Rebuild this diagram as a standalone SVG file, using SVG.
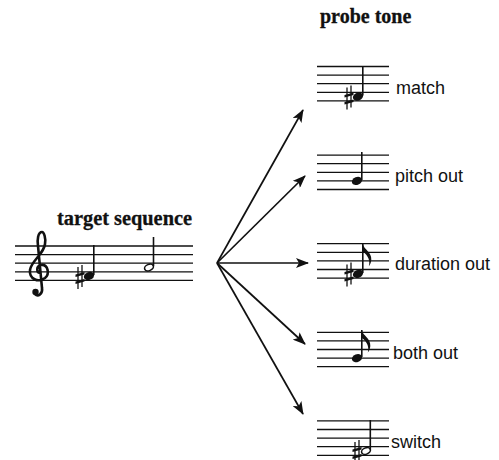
<svg xmlns="http://www.w3.org/2000/svg" xmlns:xlink="http://www.w3.org/1999/xlink" width="499" height="460" viewBox="0 0 499 460">
<style>
.staff line{stroke:#111;stroke-width:1.3}
.title{font-family:"Liberation Serif","Times New Roman",serif;font-weight:bold;font-size:20px;fill:#111;stroke:#111;stroke-width:0.3}
.lbl{font-family:"Liberation Sans",Arial,sans-serif;font-size:18px;fill:#111}
.stem{stroke:#111;stroke-width:1.6}
.arrow{stroke:#111;stroke-width:1.7;fill:none;marker-end:url(#ah)}
</style>
<defs>
<marker id="ah" viewBox="0 0 13 10" refX="12" refY="5" markerWidth="13" markerHeight="10" markerUnits="userSpaceOnUse" orient="auto">
<path d="M0,0 L13,5 L0,10 L3,5 z" fill="#111"/>
</marker>
<g id="staff5" class="staff">
<line x1="0" y1="0" x2="72" y2="0"/>
<line x1="0" y1="8.6" x2="72" y2="8.6"/>
<line x1="0" y1="17.2" x2="72" y2="17.2"/>
<line x1="0" y1="25.8" x2="72" y2="25.8"/>
<line x1="0" y1="34.4" x2="72" y2="34.4"/>
</g>
<g id="sharp">
<line x1="-2" y1="-10" x2="-2" y2="12" stroke="#111" stroke-width="1.3"/>
<line x1="2" y1="-12" x2="2" y2="10" stroke="#111" stroke-width="1.3"/>
<path d="M-4.5,-2.5 L4.5,-5 L4.5,-2.5 L-4.5,0 z" fill="#111"/>
<path d="M-4.5,4.5 L4.5,2 L4.5,4.5 L-4.5,7 z" fill="#111"/>
</g>
<ellipse id="fhead" cx="0" cy="0" rx="5.3" ry="3.9" transform="rotate(-22)" fill="#111"/>
<ellipse id="ohead" cx="0" cy="0" rx="4.6" ry="3.1" transform="rotate(-22)" fill="none" stroke="#111" stroke-width="1.6"/>
<path id="flag" d="M0,0 C1,6 9,8 8.5,16 C8.3,19 7.3,21 6,22.5 C7.5,18 6,12 0,8 z" fill="#111"/>
</defs>
<rect width="499" height="460" fill="#fff"/>

<g id="target">
<text class="title" x="57" y="225" textLength="135" lengthAdjust="spacingAndGlyphs">target sequence</text>
<g class="staff">
<line x1="15" y1="246" x2="193" y2="246"/>
<line x1="15" y1="254.6" x2="193" y2="254.6"/>
<line x1="15" y1="263.2" x2="193" y2="263.2"/>
<line x1="15" y1="271.8" x2="193" y2="271.8"/>
<line x1="15" y1="280.4" x2="193" y2="280.4"/>
</g>
<path d="M41,273 C36,273 36,266 41,265 C48,264 50,274 45,278 C38,283 29,279 30,270 C31,261 44,254 45,244 C46,238 44,232 42,232 C38,232 37,240 38,246 L42,288 C43,294 38,297 35,294" fill="none" stroke="#111" stroke-width="2.6"/>
<circle cx="35.5" cy="292" r="3.2" fill="#111"/>
<use xlink:href="#sharp" x="80" y="277"/>
<use xlink:href="#fhead" x="89" y="276"/>
<line class="stem" x1="93.8" y1="275" x2="93.8" y2="245"/>
<use xlink:href="#ohead" x="149" y="267.5"/>
<line class="stem" x1="153.5" y1="266" x2="153.5" y2="237"/>
</g>

<g id="probe-title">
<text class="title" x="320" y="23">probe tone</text>
</g>

<g id="match">
<use xlink:href="#staff5" x="317" y="66.5"/>
<use xlink:href="#sharp" x="349" y="97.5"/>
<use xlink:href="#fhead" x="358" y="96.6"/>
<line class="stem" x1="362.8" y1="95.5" x2="362.8" y2="66.5"/>
<text class="lbl" x="396" y="94">match</text>
</g>

<g id="pitch-out">
<use xlink:href="#staff5" x="317" y="155.1"/>
<use xlink:href="#fhead" x="357" y="180.9"/>
<line class="stem" x1="361.8" y1="180" x2="361.8" y2="152"/>
<text class="lbl" x="395" y="182">pitch out</text>
</g>

<g id="duration-out">
<use xlink:href="#staff5" x="317" y="243.7"/>
<use xlink:href="#sharp" x="349" y="274.5"/>
<use xlink:href="#fhead" x="358" y="273.8"/>
<line class="stem" x1="362.8" y1="273" x2="362.8" y2="243.7"/>
<use xlink:href="#flag" x="362.8" y="243.7"/>
<text class="lbl" x="395" y="270">duration out</text>
</g>

<g id="both-out">
<use xlink:href="#staff5" x="317" y="332.3"/>
<use xlink:href="#fhead" x="357" y="358.1"/>
<line class="stem" x1="361.8" y1="357" x2="361.8" y2="330"/>
<use xlink:href="#flag" x="361.8" y="330"/>
<text class="lbl" x="393" y="359">both out</text>
</g>

<g id="switch">
<use xlink:href="#staff5" x="317" y="420.9"/>
<use xlink:href="#sharp" x="357" y="452"/>
<use xlink:href="#ohead" x="366" y="451"/>
<line class="stem" x1="370.3" y1="449.5" x2="370.3" y2="420"/>
<text class="lbl" x="391" y="448">switch</text>
</g>

<g id="connectors">
<line class="arrow" x1="217" y1="263" x2="303" y2="110"/>
<line class="arrow" x1="217" y1="263" x2="305" y2="176"/>
<line class="arrow" x1="217" y1="263" x2="308" y2="263"/>
<line class="arrow" x1="217" y1="263" x2="305" y2="344"/>
<line class="arrow" x1="217" y1="263" x2="303" y2="414"/>
</g>
</svg>
